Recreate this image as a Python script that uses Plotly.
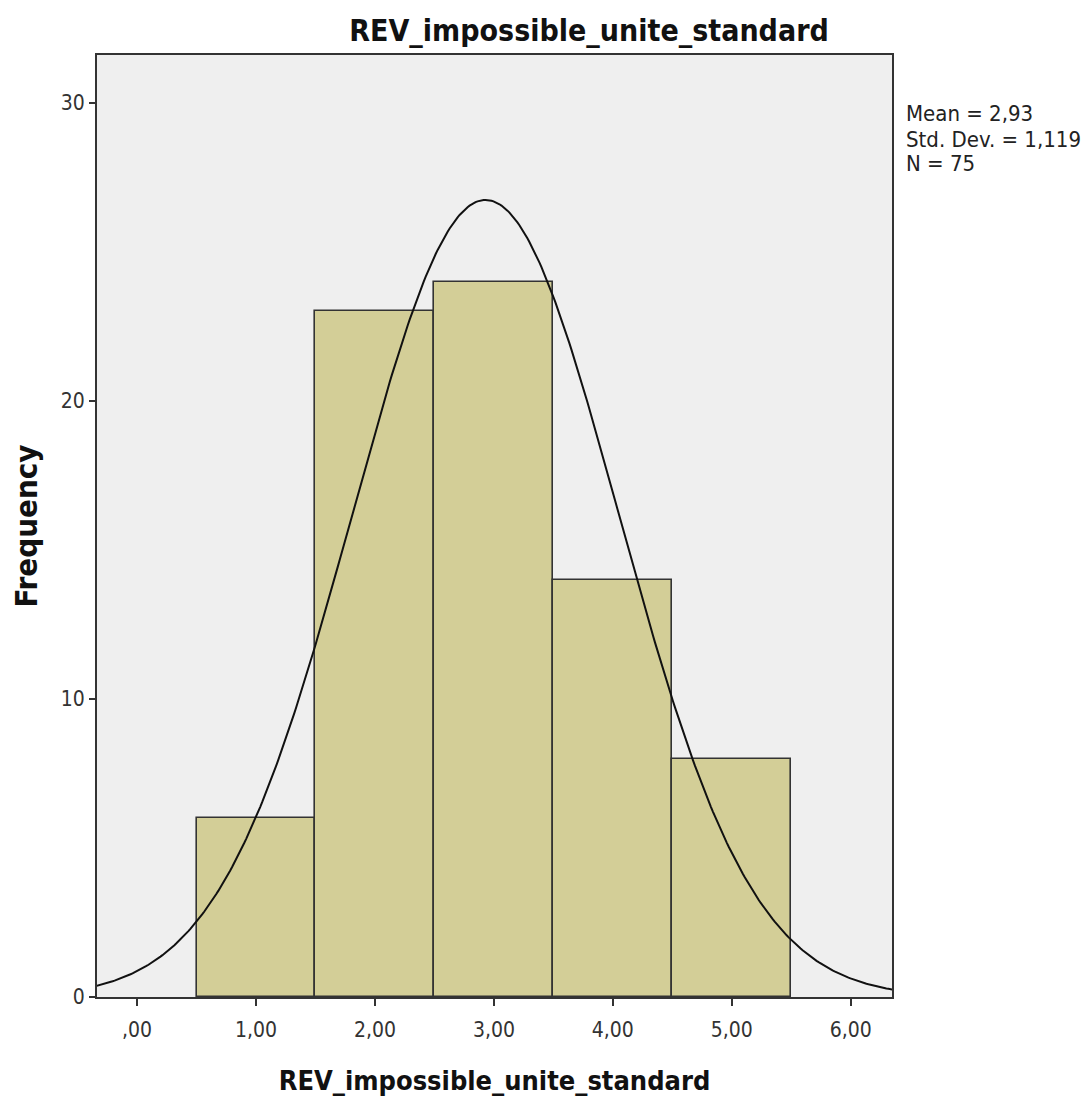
import numpy as np
import plotly.graph_objects as go

# Histogram bins (centres) and frequencies
bin_centers = [1, 2, 3, 4, 5]
frequencies = [6, 23, 24, 14, 8]
bin_width = 1.0

# Summary statistics shown beside the plot
mean_value = 2.93
std_dev = 1.119
n_obs = 75
stats_lines = [
    "Mean = " + f"{mean_value:.2f}".replace(".", ","),
    "Std. Dev. = " + f"{std_dev:.3f}".replace(".", ","),
    f"N = {n_obs}",
]

x_tick_vals = [0, 1, 2, 3, 4, 5, 6]
x_tick_text = [",00", "1,00", "2,00", "3,00", "4,00", "5,00", "6,00"]
y_tick_vals = [0, 10, 20, 30]

font_family = "DejaVu Sans Condensed, DejaVu Sans, sans-serif"

# Fitted normal curve scaled to counts
x_curve = np.linspace(-0.34, 6.35, 400)
y_curve = n_obs * bin_width / (std_dev * np.sqrt(2 * np.pi)) * np.exp(
    -0.5 * ((x_curve - mean_value) / std_dev) ** 2
)

fig = go.Figure()
fig.add_trace(
    go.Bar(
        x=bin_centers,
        y=frequencies,
        width=bin_width,
        marker=dict(color="#d3ce97", line=dict(color="#333333", width=1.6)),
        hoverinfo="x+y",
    )
)
fig.add_trace(
    go.Scatter(
        x=x_curve,
        y=y_curve,
        mode="lines",
        line=dict(color="#111111", width=2),
        hoverinfo="skip",
    )
)

# Statistics box, one line per annotation for tight spacing
plot_top, plot_h = 55, 942
stats_annotations = []
for i, line in enumerate(stats_lines):
    y_px = 114 + i * 25
    stats_annotations.append(
        dict(
            text=line,
            xref="paper",
            yref="paper",
            x=1.0,
            xshift=12,
            y=1 - (y_px - plot_top) / plot_h,
            xanchor="left",
            yanchor="middle",
            align="left",
            showarrow=False,
            font=dict(size=22, color="#222222"),
        )
    )

fig.update_layout(
    width=1088,
    height=1102,
    margin=dict(l=97, r=196, t=55, b=105),
    paper_bgcolor="white",
    plot_bgcolor="#efefef",
    showlegend=False,
    bargap=0,
    font=dict(family=font_family, color="#333333"),
    title=dict(
        text="<b>REV_impossible_unite_standard</b>",
        x=589 / 1088,
        xanchor="center",
        y=1 - 30 / 1102,
        yanchor="middle",
        font=dict(size=30, color="#111111", family=font_family),
    ),
    xaxis=dict(
        range=[-0.337, 6.347],
        tickvals=x_tick_vals,
        ticktext=x_tick_text,
        ticks="outside",
        ticklen=7,
        tickwidth=2,
        tickcolor="#333333",
        ticklabelstandoff=6,
        tickfont=dict(size=21, color="#333333"),
        showline=True,
        linecolor="#333333",
        linewidth=2,
        mirror=True,
        showgrid=False,
        zeroline=False,
        title=dict(
            text="<b>REV_impossible_unite_standard</b>",
            font=dict(size=27, color="#111111"),
            standoff=30,
        ),
    ),
    yaxis=dict(
        range=[0, 31.6],
        tickvals=y_tick_vals,
        ticks="outside",
        ticklen=6,
        tickwidth=2,
        tickcolor="#333333",
        tickfont=dict(size=21, color="#333333"),
        showline=True,
        linecolor="#333333",
        linewidth=2,
        mirror=True,
        showgrid=False,
        zeroline=False,
        title=dict(
            text="<b>Frequency</b>",
            font=dict(size=31, color="#111111"),
            standoff=14,
        ),
    ),
    annotations=stats_annotations,
)

fig.write_html("out.html")
